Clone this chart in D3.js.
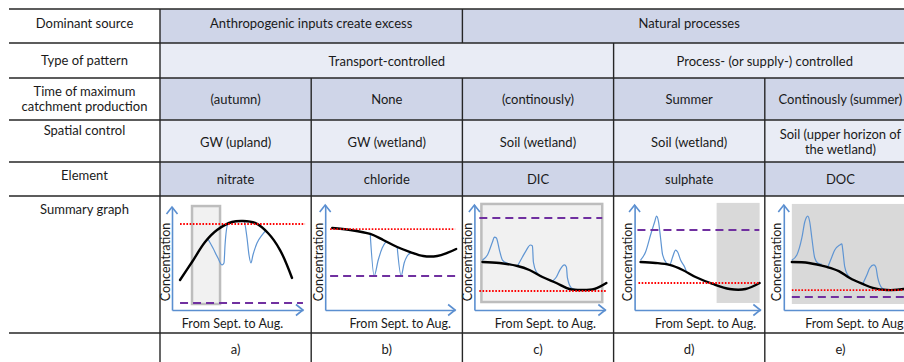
<!DOCTYPE html>
<html>
<head>
<meta charset="utf-8">
<script src="https://cdn.jsdelivr.net/npm/d3@7"></script>
<style>
  html, body { margin: 0; padding: 0; background: #fff; }
  svg { display: block; }
  text { font-family: Lato, "Open Sans", sans-serif; fill: #1a1a1a; }
</style>
</head>
<body>
<svg id="chart" width="904" height="362"></svg>
<script>
// ---------- table content ----------
const rowLabels = [
  ["Dominant source"],
  ["Type of pattern"],
  ["Time of maximum", "catchment production"],
  ["Spatial control"],
  ["Element"],
  ["Summary graph"]
];
const dominantSource = [
  { label: "Anthropogenic inputs create excess", span: [0, 2] },
  { label: "Natural processes", span: [2, 5] }
];
const patternType = [
  { label: "Transport-controlled", span: [0, 3] },
  { label: "Process- (or supply-) controlled", span: [3, 5] }
];
const maxProductionTime = ["(autumn)", "None", "(continously)", "Summer", "Continously (summer)"];
const spatialControl = [["GW (upland)"], ["GW (wetland)"], ["Soil (wetland)"], ["Soil (wetland)"],
                        ["Soil (upper horizon of", "the wetland)"]];
const elements = ["nitrate", "chloride", "DIC", "sulphate", "DOC"];
const panelLetters = ["a)", "b)", "c)", "d)", "e)"];
const xAxisTitle = "From Sept. to Aug.";
const yAxisTitle = "Concentration";

// ---------- summary graphs: [month since September, relative concentration] ----------
const trendA = [[0.1,2.86],[1.25,4.57],[2.5,6.48],[3.65,7.62],[5.09,8.38],[6.14,8.48],[7.3,8.29],[8.54,7.33],[9.7,5.71],[10.85,3.05]];
const trendB = [[0,7.81],[1.73,7.62],[3.65,7.24],[4.9,6.67],[6.24,6.0],[7.49,5.52],[8.74,5.14],[10.08,5.14],[11.04,5.43],[11.9,5.81]];
const trendC = [[0.1,4.57],[1.73,4.48],[3.46,4.19],[4.61,3.81],[5.86,3.14],[7.2,2.57],[8.45,2.0],[9.7,1.9],[10.85,2.0],[12.0,2.57]];
const trendD = [[-0.1,4.57],[1.34,4.48],[2.69,4.29],[3.94,3.81],[5.18,3.14],[6.82,2.48],[8.45,2.0],[9.98,2.0],[11.33,2.57]];
const trendE = [[0.1,4.57],[1.73,4.48],[3.46,4.1],[4.61,3.71],[5.66,3.05],[6.9,2.48],[7.87,2.1],[9.22,1.9],[10.85,2.0],[12.2,2.4]];

// event responses (storm / snowmelt pulses) departing from the seasonal trend
const pulsesA = [
  [[2.78,6.76],[3.26,5.9],[3.74,4.95],[4.13,4.29],[4.32,4.48],[4.42,6.19],[4.7,8.19],[5.3,8.42],[6.0,8.5],[6.24,8.46],
   [6.53,6.86],[6.72,5.24],[6.91,4.48],[7.1,5.24],[7.49,6.38],[7.97,7.14],[8.26,7.5]]
];
const pulsesB = [
  [[3.65,7.24],[4.03,3.24],[4.42,4.76],[4.8,5.9],[5.18,6.53]],
  [[6.24,6.0],[6.62,3.24],[6.91,4.48],[7.2,5.14],[7.58,5.49]]
];
const pulsesC = [
  [[0.1,4.75],[0.58,5.24],[1.06,6.48],[1.25,6.95],[1.44,6.86],[1.73,5.71],[2.02,4.76],[2.5,4.45],[2.98,4.3]],
  [[3.46,4.19],[3.94,5.05],[4.32,5.71],[4.7,6.19],[4.9,6.1],[4.99,4.57],[5.28,3.62],[5.76,3.2]],
  [[6.82,2.73],[7.2,3.14],[7.58,3.9],[7.97,4.29],[8.16,4.1],[8.26,3.05],[8.64,2.1],[9.02,1.95]]
];
const pulsesD = [
  [[-0.1,4.75],[0.38,5.52],[0.86,7.14],[1.25,8.38],[1.44,8.95],[1.63,8.38],[1.82,6.86],[2.02,5.24],[2.4,4.45],
   [2.69,4.29],[2.98,5.05],[3.26,5.71],[3.46,5.52],[3.74,4.76],[4.13,4.1],[4.32,3.62]]
];
const pulsesE = [
  [[0.1,4.75],[0.58,5.24],[1.06,6.86],[1.34,8.38],[1.63,8.95],[1.82,8.38],[2.02,6.86],[2.3,4.95],[2.59,4.48],[2.98,4.36]],
  [[3.55,4.08],[3.94,5.05],[4.22,5.71],[4.7,6.19],[4.9,6.29],[4.99,5.71],[5.18,4.1],[5.47,3.33],[5.86,2.96]],
  [[6.91,2.5],[7.3,3.33],[7.58,4.0],[7.97,4.29],[8.16,4.1],[8.35,3.05],[8.74,2.1],[9.02,1.95]]
];

// reference concentrations: [level, from month, to month]
const dottedRefs = [[8.19,0.1,12.1],[7.71,-0.2,11.8],[1.81,-0.2,12.0],[2.57,-0.3,11.3],[1.9,0.1,12.6]];
const dashedRefs = [[0.67,0.1,11.9],[3.24,-0.2,11.8],[8.76,-0.2,11.6],[7.62,-0.4,11.3],[1.24,0.1,12.6]];

// active period: [from month, to month, low, high] (null = none)
const activeWindows = [[1.25,3.94,0.57,9.9], null, [0,11.6,0.76,10.1], [7.2,11.33,0.67,10.2], [0.1,12.6,0.57,10.1]];

const trends = [trendA, trendB, trendC, trendD, trendE];
const pulses = [pulsesA, pulsesB, pulsesC, pulsesD, pulsesE];

// ---------- layout ----------
const svg = d3.select("#chart");
const colX = d3.scaleLinear().domain([0, 5]).range([160, 916]);
const tableLeft = 9, tableRight = 904;
const rowEdges = [9, 43, 78, 120, 162, 196, 333, 363];
const FILL_DARK = "#cfd5e8", FILL_LIGHT = "#e9ecf5";
const GRID = "#262626";
const FS = 13, FS_PANEL = 12.5;

// banded row backgrounds
const bandFills = [FILL_DARK, FILL_LIGHT, FILL_DARK, FILL_LIGHT, FILL_DARK];
svg.selectAll("rect.band").data(bandFills).join("rect")
  .attr("class", "band")
  .attr("x", colX(0)).attr("y", (d, i) => rowEdges[i])
  .attr("width", colX(5) - colX(0))
  .attr("height", (d, i) => rowEdges[i + 1] - rowEdges[i])
  .attr("fill", d => d);

// cell definitions for each row
const single = arr => arr.map((t, i) => ({ lines: Array.isArray(t) ? t : [t], span: [i, i + 1] }));
const rows = [
  dominantSource.map(d => ({ lines: [d.label], span: d.span })),
  patternType.map(d => ({ lines: [d.label], span: d.span })),
  single(maxProductionTime),
  single(spatialControl),
  single(elements),
  single(elements.map(() => [])),
  single(panelLetters)
];
const cellTextY = [23, 61, 99, 141.5, 179, null, 349];
const labelTextY = [23, 60, 98.5, 130, 175, 209];
const LINE_H = 15;

function drawLines(g, lines, cx, cy) {
  const t = g.append("text").attr("text-anchor", "middle").attr("font-size", FS);
  lines.forEach((ln, k) => {
    t.append("tspan").attr("x", cx)
      .attr("y", cy + (k - (lines.length - 1) / 2) * LINE_H)
      .attr("dominant-baseline", "central").text(ln);
  });
}

const textG = svg.append("g");
rowLabels.forEach((lines, r) => drawLines(textG, lines, (tableLeft + colX(0)) / 2, labelTextY[r]));
rows.forEach((cells, r) => {
  if (cellTextY[r] == null) return;
  cells.forEach(c => {
    if (c.lines.length) drawLines(textG, c.lines, (colX(c.span[0]) + colX(c.span[1])) / 2, cellTextY[r]);
  });
});

// ---------- summary graphs ----------
const axisOffset = [12, 14, 12, 21, 19];
const xTitleOffset = [60.5, 75, 71, 71, 72];
const axisEnd = [11.9, 11.8, 11.9, 11.4, 13.5];
const yAxisTop = [9.8, 10, 10, 10, 10];
const AXIS_BLUE = "#5b8fd0";
const PULSE_BLUE = "#5f95d3";

trends.forEach((trend, i) => {
  const axisX = colX(i) + axisOffset[i];
  const x = d3.scaleLinear().domain([0, 12]).range([axisX + 7, axisX + 132]);
  const y = d3.scaleLinear().domain([0, 10]).range([310, 205]);
  const g = svg.append("g");

  const w = activeWindows[i];
  if (w) {
    const outlined = i === 0 || i === 2;
    g.append("rect")
      .attr("x", x(w[0])).attr("y", y(w[3]))
      .attr("width", x(w[1]) - x(w[0])).attr("height", y(w[2]) - y(w[3]))
      .attr("fill", outlined ? "#f1f1f1" : "#d9d9d9")
      .attr("stroke", outlined ? "#bdbdbd" : "none")
      .attr("stroke-width", 2.5);
  }

  // axes without ticks, finished with open arrow heads
  const xa = d3.scaleLinear().domain([x.invert(axisX), axisEnd[i]]).range([axisX, x(axisEnd[i])]);
  const ya = d3.scaleLinear().domain([0, yAxisTop[i]]).range([y(0), y(yAxisTop[i])]);
  const gx = g.append("g").attr("transform", `translate(0,${y(0)})`)
    .call(d3.axisBottom(xa).tickValues([]).tickSizeOuter(0));
  const gy = g.append("g").attr("transform", `translate(${axisX},0)`)
    .call(d3.axisLeft(ya).tickValues([]).tickSizeOuter(0));
  [gx, gy].forEach(a => a.select(".domain").attr("stroke", AXIS_BLUE).attr("stroke-width", 1.6));

  const chevron = d3.line();
  const tipX = xa.range()[1], tipY = ya.range()[1];
  g.append("path").attr("d", chevron([[tipX - 7, y(0) - 5.5], [tipX, y(0)], [tipX - 7, y(0) + 5.5]]))
    .attr("fill", "none").attr("stroke", AXIS_BLUE).attr("stroke-width", 1.6);
  g.append("path").attr("d", chevron([[axisX - 5.5, tipY + 7], [axisX, tipY], [axisX + 5.5, tipY + 7]]))
    .attr("fill", "none").attr("stroke", AXIS_BLUE).attr("stroke-width", 1.6);

  g.append("text").attr("font-size", FS_PANEL).attr("text-anchor", "middle")
    .attr("dominant-baseline", "central")
    .attr("transform", `translate(${axisX - 7},262) rotate(-90)`).text(yAxisTitle);
  g.append("text").attr("font-size", FS_PANEL).attr("text-anchor", "middle")
    .attr("dominant-baseline", "central")
    .attr("x", axisX + xTitleOffset[i]).attr("y", 323).text(xAxisTitle);

  // event pulses under the seasonal trend
  const pulseLine = d3.line().x(d => x(d[0])).y(d => y(d[1])).curve(d3.curveMonotoneX);
  g.selectAll("path.pulse").data(pulses[i]).join("path")
    .attr("class", "pulse").attr("d", pulseLine)
    .attr("fill", "none").attr("stroke", PULSE_BLUE).attr("stroke-width", 1.2);

  const trendLine = d3.line().x(d => x(d[0])).y(d => y(d[1])).curve(d3.curveCatmullRom.alpha(0.5));
  g.append("path").attr("d", trendLine(trend))
    .attr("fill", "none").attr("stroke", "#000").attr("stroke-width", 2.4)
    .attr("stroke-linecap", "round");

  // reference concentrations
  const dash = dashedRefs[i];
  g.append("line").attr("x1", x(dash[1])).attr("x2", x(dash[2]))
    .attr("y1", y(dash[0])).attr("y2", y(dash[0]))
    .attr("stroke", "#7030a0").attr("stroke-width", 2).attr("stroke-dasharray", "8,5");
  const dot = dottedRefs[i];
  g.append("line").attr("x1", x(dot[1])).attr("x2", x(dot[2]))
    .attr("y1", y(dot[0])).attr("y2", y(dot[0]))
    .attr("stroke", "#ff0000").attr("stroke-width", 1.8).attr("stroke-dasharray", "1.6,1.6");
});

// ---------- grid ----------
const grid = svg.append("g").attr("stroke", GRID).attr("stroke-width", 1.4);
rowEdges.slice(0, -1).forEach(yy => {
  grid.append("line").attr("x1", tableLeft).attr("x2", tableRight).attr("y1", yy).attr("y2", yy);
});
rows.forEach((cells, r) => {
  cells.forEach(c => {
    grid.append("line").attr("x1", colX(c.span[0])).attr("x2", colX(c.span[0]))
      .attr("y1", rowEdges[r]).attr("y2", rowEdges[r + 1]);
  });
});
</script>
</body>
</html>
